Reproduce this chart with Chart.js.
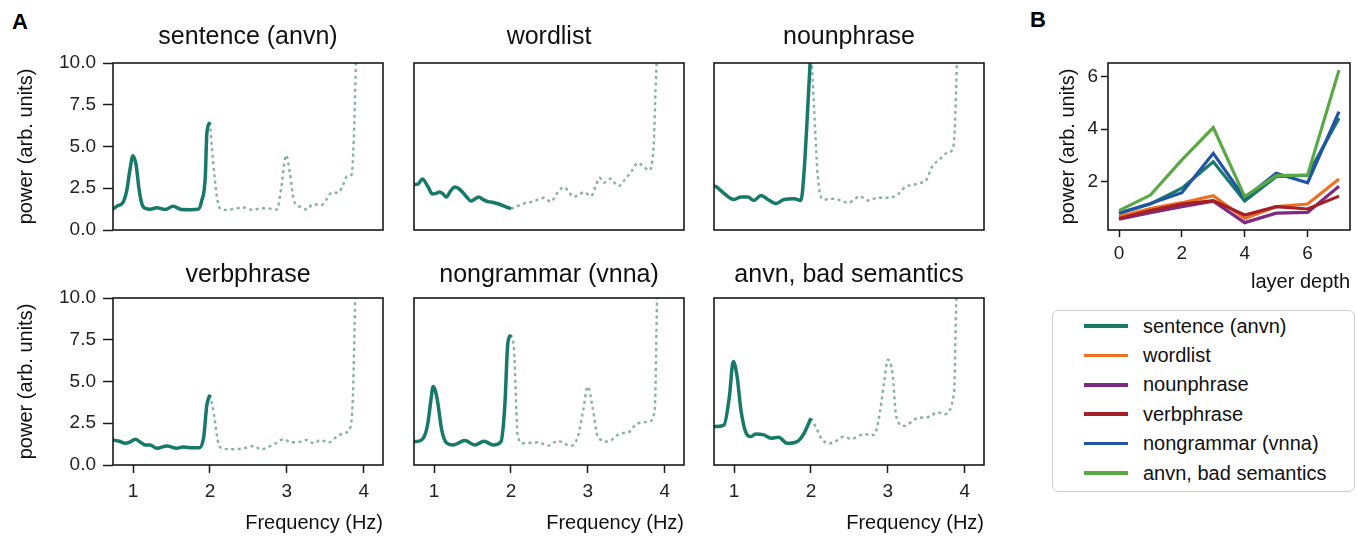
<!DOCTYPE html>
<html><head><meta charset="utf-8">
<script src="https://cdn.jsdelivr.net/npm/chart.js@4.4.0/dist/chart.umd.min.js"></script>
<style>
body{margin:0;background:#fff;width:1357px;height:537px;position:relative;overflow:hidden;font-family:"Liberation Sans",Arial,sans-serif;}
canvas{position:absolute;}
.lbl{position:absolute;font-weight:bold;font-size:22px;color:#000;}
#legend{position:absolute;left:1052px;top:310px;width:301px;height:180px;border:1px solid #cfcfcf;border-radius:6px;}
.row{position:absolute;left:0;height:29px;display:flex;align-items:center;font-size:20px;color:#111;white-space:nowrap;}
.swatch{width:44px;height:3.5px;margin-left:31px;margin-right:15px;}
</style></head><body>
<div class="lbl" style="left:12px;top:9px">A</div>
<div class="lbl" style="left:1030px;top:7px">B</div>
<div id="legend"></div>
<script>
// ---------- Panel A data ----------
const freqTicks = [1, 2, 3, 4];
const powerTicks = [0, 2.5, 5, 7.5, 10];
const panelTitles = ['sentence (anvn)', 'wordlist', 'nounphrase', 'verbphrase', 'nongrammar (vnna)', 'anvn, bad semantics'];

const sentenceHzSolid  = [0.74, 0.80, 0.87, 0.92, 0.96, 1.00, 1.04, 1.08, 1.12, 1.17, 1.22, 1.31, 1.42, 1.52, 1.63, 1.75, 1.85, 1.89, 1.94, 1.96, 2.00];
const sentencePowSolid = [1.25, 1.45, 1.65, 2.4, 3.6, 4.45, 3.9, 2.4, 1.5, 1.28, 1.25, 1.33, 1.23, 1.42, 1.23, 1.22, 1.25, 1.7, 3.2, 5.8, 6.45];
const sentenceHzDot    = [2.00, 2.04, 2.09, 2.13, 2.20, 2.30, 2.43, 2.56, 2.66, 2.74, 2.87, 2.93, 2.99, 3.04, 3.09, 3.17, 3.26, 3.34, 3.45, 3.52, 3.58, 3.67, 3.73, 3.78, 3.84, 3.87, 3.90, 3.92];
const sentencePowDot   = [6.45, 4.2, 2.0, 1.3, 1.2, 1.25, 1.35, 1.2, 1.3, 1.3, 1.23, 2.6, 4.48, 3.4, 1.8, 1.4, 1.23, 1.55, 1.5, 1.85, 2.23, 2.23, 2.7, 3.19, 3.3, 5.4, 10.5, 14];

const wordlistHzSolid  = [0.74, 0.79, 0.85, 0.92, 0.98, 1.03, 1.07, 1.12, 1.16, 1.21, 1.27, 1.32, 1.37, 1.43, 1.48, 1.53, 1.58, 1.64, 1.70, 1.77, 1.83, 1.92, 2.00];
const wordlistPowSolid = [2.73, 2.75, 3.05, 2.6, 2.15, 2.2, 2.27, 2.15, 1.97, 2.3, 2.57, 2.48, 2.27, 1.95, 1.73, 1.85, 1.97, 1.82, 1.70, 1.65, 1.57, 1.42, 1.27];
const wordlistHzDot    = [2.00, 2.09, 2.17, 2.24, 2.30, 2.37, 2.43, 2.52, 2.60, 2.69, 2.75, 2.81, 2.88, 2.95, 3.04, 3.10, 3.15, 3.21, 3.25, 3.30, 3.35, 3.40, 3.46, 3.52, 3.58, 3.65, 3.73, 3.80, 3.84, 3.86, 3.88, 3.90];
const wordlistPowDot   = [1.27, 1.45, 1.59, 1.65, 1.73, 1.85, 1.93, 1.69, 2.2, 2.57, 2.3, 1.99, 2.1, 2.27, 2.03, 2.6, 3.13, 2.83, 2.95, 3.07, 2.8, 2.63, 2.9, 3.23, 3.6, 4.02, 3.78, 3.57, 4.22, 5.42, 8.4, 10.5];

const nounHzSolid  = [0.74, 0.77, 0.87, 1.00, 1.09, 1.18, 1.26, 1.35, 1.44, 1.55, 1.65, 1.78, 1.87, 1.91, 1.96, 2.00];
const nounPowSolid = [2.65, 2.59, 2.19, 1.83, 1.97, 1.97, 1.77, 2.07, 1.83, 1.59, 1.83, 1.87, 1.77, 3.43, 7.41, 11];
const nounHzDot    = [2.00, 2.04, 2.08, 2.12, 2.17, 2.30, 2.40, 2.48, 2.56, 2.63, 2.74, 2.87, 3.02, 3.13, 3.23, 3.33, 3.43, 3.49, 3.58, 3.67, 3.77, 3.84, 3.87, 3.90];
const nounPowDot   = [11, 7.41, 3.82, 2.13, 1.83, 1.87, 1.75, 1.63, 1.8, 2.03, 1.77, 1.93, 1.93, 2.13, 2.59, 2.7, 2.83, 2.93, 3.82, 4.22, 4.62, 4.82, 6.02, 10.5];

const verbHzSolid  = [0.74, 0.82, 0.90, 0.97, 1.03, 1.10, 1.16, 1.22, 1.31, 1.44, 1.57, 1.65, 1.74, 1.87, 1.92, 1.96, 2.00];
const verbPowSolid = [1.5, 1.42, 1.3, 1.4, 1.54, 1.35, 1.2, 1.2, 1.0, 1.14, 1.0, 1.08, 1.04, 1.04, 1.7, 3.6, 4.2];
const verbHzDot    = [2.00, 2.05, 2.11, 2.16, 2.31, 2.48, 2.57, 2.66, 2.83, 2.96, 3.05, 3.18, 3.26, 3.35, 3.44, 3.54, 3.65, 3.74, 3.83, 3.86, 3.89, 3.91];
const verbPowDot   = [4.2, 3.1, 1.3, 1.0, 0.94, 1.04, 1.14, 0.94, 1.24, 1.54, 1.36, 1.4, 1.5, 1.3, 1.5, 1.34, 1.7, 1.9, 2.3, 4.3, 10, 12];

const nongramHzSolid  = [0.74, 0.76, 0.86, 0.92, 0.96, 0.99, 1.02, 1.05, 1.10, 1.16, 1.25, 1.40, 1.53, 1.65, 1.77, 1.87, 1.92, 1.96, 2.00];
const nongramPowSolid = [1.4, 1.4, 1.6, 2.5, 3.9, 4.7, 4.4, 3.7, 2.1, 1.34, 1.2, 1.46, 1.2, 1.42, 1.2, 1.4, 3.5, 7.3, 7.8];
const nongramHzDot    = [2.00, 2.04, 2.09, 2.16, 2.35, 2.48, 2.61, 2.78, 2.87, 2.94, 3.00, 3.06, 3.13, 3.26, 3.43, 3.52, 3.65, 3.80, 3.87, 3.90, 3.92];
const nongramPowDot   = [7.8, 6.9, 1.7, 1.3, 1.36, 1.16, 1.44, 1.14, 1.7, 3.3, 4.7, 3.5, 1.7, 1.4, 1.9, 1.94, 2.5, 2.6, 3.3, 9.9, 12];

const badsemHzSolid  = [0.74, 0.76, 0.87, 0.94, 0.99, 1.04, 1.09, 1.15, 1.22, 1.28, 1.39, 1.48, 1.58, 1.69, 1.82, 1.91, 2.00];
const badsemPowSolid = [2.3, 2.3, 2.4, 4.1, 6.2, 5.3, 3.3, 2.0, 1.7, 1.86, 1.8, 1.6, 1.66, 1.3, 1.4, 1.9, 2.8];
const badsemHzDot    = [2.00, 2.06, 2.15, 2.26, 2.43, 2.52, 2.69, 2.82, 2.88, 2.95, 3.00, 3.06, 3.11, 3.21, 3.38, 3.55, 3.64, 3.73, 3.86, 3.89, 3.91];
const badsemPowDot   = [2.8, 2.3, 1.5, 1.3, 1.7, 1.56, 1.84, 1.8, 2.7, 4.9, 6.3, 5.5, 2.9, 2.34, 2.8, 2.9, 3.16, 3.04, 4.3, 9.9, 12];

// ---------- Panel B data ----------
const layerDepth = [0, 1, 2, 3, 4, 5, 6, 7];
const layerTicks = [0, 2, 4, 6];
const powerTicksB = [2, 4, 6];
const seriesNames = ['sentence (anvn)', 'wordlist', 'nounphrase', 'verbphrase', 'nongrammar (vnna)', 'anvn, bad semantics'];
const sentenceByLayer   = [0.80, 1.15, 1.75, 2.76, 1.26, 2.19, 2.25, 4.42];
const wordlistByLayer   = [0.67, 0.98, 1.20, 1.47, 0.60, 1.05, 1.15, 2.10];
const nounphraseByLayer = [0.57, 0.82, 1.05, 1.26, 0.44, 0.80, 0.83, 1.83];
const verbphraseByLayer = [0.60, 0.90, 1.15, 1.28, 0.73, 1.05, 0.96, 1.45];
const nongrammarByLayer = [0.80, 1.17, 1.58, 3.08, 1.37, 2.32, 1.96, 4.67];
const badsemByLayer     = [0.90, 1.49, 2.83, 4.06, 1.43, 2.23, 2.25, 6.25];

// ---------- style ----------
const FONT = '"Liberation Sans", Arial, sans-serif';
const TEAL = '#177a68';
const DOT = '#86b1a4';
const INK = '#1a1a1a';
const seriesColors = ['#1a7a6a', '#f07022', '#7d2a82', '#a51f24', '#2154a4', '#5aa845'];
Chart.defaults.font.family = FONT;
Chart.defaults.color = '#111';

const framePlugin = {
  id: 'frame',
  afterDatasetsDraw(chart) {
    const {ctx, chartArea: a} = chart;
    ctx.save();
    ctx.strokeStyle = INK;
    ctx.lineWidth = 1.6;
    ctx.strokeRect(a.left, a.top, a.right - a.left, a.bottom - a.top);
    ctx.restore();
  }
};

const zip = (xs, ys) => xs.map((x, i) => ({x, y: ys[i]}));

const panels = [
  [sentenceHzSolid, sentencePowSolid, sentenceHzDot, sentencePowDot],
  [wordlistHzSolid, wordlistPowSolid, wordlistHzDot, wordlistPowDot],
  [nounHzSolid, nounPowSolid, nounHzDot, nounPowDot],
  [verbHzSolid, verbPowSolid, verbHzDot, verbPowDot],
  [nongramHzSolid, nongramPowSolid, nongramHzDot, nongramPowDot],
  [badsemHzSolid, badsemPowSolid, badsemHzDot, badsemPowDot]
];

const cols = [{L: 113, R: 383}, {L: 414, R: 684}, {L: 714, R: 984}];
const rows = [
  {ctop: 0, T: 63, B: 230, tp: 22, tb: 11},
  {ctop: 245, T: 298, B: 465, tp: 15, tb: 8}
];

function makeCanvas(left, top, w, h) {
  const c = document.createElement('canvas');
  c.width = w; c.height = h;
  c.style.left = left + 'px'; c.style.top = top + 'px';
  document.body.appendChild(c);
  return c;
}

panels.forEach((p, idx) => {
  const r = rows[Math.floor(idx / 3)], c = cols[idx % 3];
  const firstCol = idx % 3 === 0, bottomRow = idx >= 3;
  const padL = firstCol ? 0 : 2;
  const padB = bottomRow ? 0 : 22;
  const cLeft = firstCol ? 0 : c.L - 2;
  const cW = c.R + 4 - cLeft;
  const cH = bottomRow ? (r.B + 70 - r.ctop) : (r.B + padB - r.ctop);
  const canvas = makeCanvas(cLeft, r.ctop, cW, cH);
  new Chart(canvas, {
    type: 'line',
    data: {
      datasets: [
        {data: zip(p[0], p[1]), borderColor: TEAL, borderWidth: 3.5, pointRadius: 0, cubicInterpolationMode: 'monotone', fill: false},
        {data: zip(p[2], p[3]), borderColor: DOT, borderWidth: 2.4, borderDash: [3, 3.5], pointRadius: 0, cubicInterpolationMode: 'monotone', fill: false}
      ]
    },
    options: {
      responsive: false, animation: false, events: [],
      layout: {padding: {left: padL, right: 4, top: 0, bottom: padB}},
      plugins: {
        legend: {display: false}, tooltip: {enabled: false},
        title: {display: true, text: panelTitles[idx], fullSize: false, color: '#111',
          font: {size: 25, weight: 'normal', family: FONT}, padding: {top: r.tp, bottom: r.tb}}
      },
      scales: {
        x: {
          type: 'linear', min: 0.74, max: 4.25, display: bottomRow,
          afterBuildTicks: s => { s.ticks = freqTicks.map(v => ({value: v})); },
          afterFit: s => { if (bottomRow) s.height = 70; else s.height = 0; },
          grid: {drawOnChartArea: false, drawTicks: true, tickLength: 8, color: INK, tickWidth: 1.5},
          border: {display: false},
          ticks: {font: {size: 19}, color: '#222', padding: 7, maxRotation: 0, autoSkip: false, callback: v => String(v)},
          title: {display: true, text: 'Frequency (Hz)', align: 'end', font: {size: 20}, color: '#111', padding: {top: 0, bottom: 0}}
        },
        y: {
          type: 'linear', min: 0, max: 10, display: firstCol,
          afterBuildTicks: s => { s.ticks = powerTicks.map(v => ({value: v})); },
          afterFit: s => { if (firstCol) s.width = 113; else s.width = 0; },
          grid: {drawOnChartArea: false, drawTicks: true, tickLength: 10, color: INK, tickWidth: 1.5},
          border: {display: false},
          ticks: {font: {size: 19}, color: '#222', padding: 7, autoSkip: false, callback: v => v.toFixed(1)},
          title: {display: true, text: 'power (arb. units)', font: {size: 20}, color: '#111', padding: {top: 14, bottom: 0}}
        }
      }
    },
    plugins: [framePlugin]
  });
});

// ---------- Panel B ----------
const layerSeries = [sentenceByLayer, wordlistByLayer, nounphraseByLayer, verbphraseByLayer, nongrammarByLayer, badsemByLayer];
const bCanvas = makeCanvas(1040, 43, 314, 251);
new Chart(bCanvas, {
  type: 'line',
  data: {
    datasets: layerSeries.map((vals, i) => ({
      label: seriesNames[i], data: zip(layerDepth, vals), borderColor: seriesColors[i],
      borderWidth: 3.2, pointRadius: 0, tension: 0, fill: false, order: 6 - i
    }))
  },
  options: {
    responsive: false, animation: false, events: [],
    layout: {padding: {left: 0, right: 4, top: 20, bottom: 0}},
    plugins: {legend: {display: false}, tooltip: {enabled: false}},
    scales: {
      x: {
        type: 'linear', min: -0.35, max: 7.35,
        afterBuildTicks: s => { s.ticks = layerTicks.map(v => ({value: v})); },
        afterFit: s => { s.height = 64; },
        grid: {drawOnChartArea: false, drawTicks: true, tickLength: 7, color: INK, tickWidth: 1.5},
        border: {display: false},
        ticks: {font: {size: 19}, color: '#222', padding: 5, maxRotation: 0, autoSkip: false, callback: v => String(v)},
        title: {display: true, text: 'layer depth', align: 'end', font: {size: 20}, color: '#111', padding: {top: 0, bottom: 0}}
      },
      y: {
        type: 'linear', min: 0.16, max: 6.52,
        afterBuildTicks: s => { s.ticks = powerTicksB.map(v => ({value: v})); },
        afterFit: s => { s.width = 68; },
        grid: {drawOnChartArea: false, drawTicks: true, tickLength: 7, color: INK, tickWidth: 1.5},
        border: {display: false},
        ticks: {font: {size: 19}, color: '#222', padding: 3, autoSkip: false, callback: v => String(v)},
        title: {display: true, text: 'power (arb. units)', font: {size: 20}, color: '#111', padding: {top: 16, bottom: 0}}
      }
    }
  },
  plugins: [framePlugin]
});

// ---------- Legend (HTML, built from series arrays) ----------
const legend = document.getElementById('legend');
seriesNames.forEach((name, i) => {
  const row = document.createElement('div');
  row.className = 'row';
  row.style.top = (15 - 14.5 + i * 29.4) + 'px';
  const sw = document.createElement('div');
  sw.className = 'swatch';
  sw.style.background = seriesColors[i];
  const tx = document.createElement('span');
  tx.textContent = name;
  row.appendChild(sw); row.appendChild(tx);
  legend.appendChild(row);
});
</script>
</body></html>
